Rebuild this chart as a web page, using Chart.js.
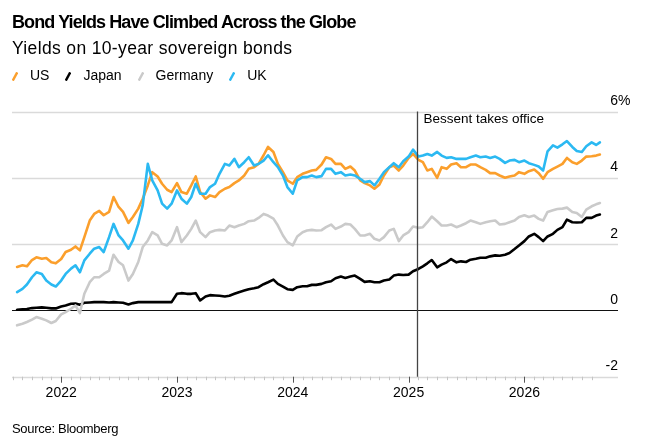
<!DOCTYPE html>
<html>
<head>
<meta charset="utf-8">
<script src="https://cdn.jsdelivr.net/npm/chart.js@4.4.1/dist/chart.umd.min.js"></script>
<style>
html, body { margin: 0; padding: 0; background: #fff; }
body { width: 645px; height: 441px; position: relative; overflow: hidden; font-family: "Liberation Sans", Arial, sans-serif; color: #000; }
canvas { position: absolute; left: 0; top: 0; }
#title { position: absolute; left: 12px; top: 13px; font-size: 18px; line-height: 18px; font-weight: bold; letter-spacing: -0.9px; white-space: nowrap; }
#sub { position: absolute; left: 12px; top: 40.2px; font-size: 17.5px; line-height: 17.5px; letter-spacing: 0.35px; white-space: nowrap; }
#legend { position: absolute; left: 12px; top: 68px; display: flex; font-size: 14px; line-height: 14px; white-space: nowrap; }
#legend .item { display: flex; margin-right: 16px; }
#legend svg { margin-top: 3.5px; margin-right: 12px; }
#source { position: absolute; left: 12px; top: 422px; font-size: 13px; line-height: 13px; letter-spacing: -0.3px; white-space: nowrap; }
</style>
</head>
<body>
<canvas id="chart" width="645" height="441"></canvas>
<div id="title">Bond Yields Have Climbed Across the Globe</div>
<div id="sub">Yields on 10-year sovereign bonds</div>
<div id="legend"></div>
<div id="source">Source: Bloomberg</div>
<script>
// half-monthly readings, % yield
const dates = [
  '2021-08-15','2021-09-01','2021-09-15','2021-10-01','2021-10-15','2021-11-01','2021-11-15','2021-12-01','2021-12-15',
  '2022-01-01','2022-01-15','2022-02-01','2022-02-15','2022-03-01','2022-03-15','2022-04-01','2022-04-15','2022-05-01','2022-05-15','2022-06-01','2022-06-15',
  '2022-07-01','2022-07-15','2022-08-01','2022-08-15','2022-09-01','2022-09-15','2022-10-01','2022-10-15','2022-11-01','2022-11-15','2022-12-01','2022-12-15',
  '2023-01-01','2023-01-15','2023-02-01','2023-02-15','2023-03-01','2023-03-15','2023-04-01','2023-04-15','2023-05-01','2023-05-15','2023-06-01','2023-06-15',
  '2023-07-01','2023-07-15','2023-08-01','2023-08-15','2023-09-01','2023-09-15','2023-10-01','2023-10-15','2023-11-01','2023-11-15','2023-12-01','2023-12-15',
  '2024-01-01','2024-01-15','2024-02-01','2024-02-15','2024-03-01','2024-03-15','2024-04-01','2024-04-15','2024-05-01','2024-05-15','2024-06-01','2024-06-15',
  '2024-07-01','2024-07-15','2024-08-01','2024-08-15','2024-09-01','2024-09-15','2024-10-01','2024-10-15','2024-11-01','2024-11-15','2024-12-01','2024-12-15',
  '2025-01-01','2025-01-15','2025-02-01','2025-02-15','2025-03-01','2025-03-15','2025-04-01','2025-04-15','2025-05-01','2025-05-15','2025-06-01','2025-06-15',
  '2025-07-01','2025-07-15','2025-08-01','2025-08-15','2025-09-01','2025-09-15','2025-10-01','2025-10-15','2025-11-01','2025-11-15','2025-12-01','2025-12-15',
  '2026-01-01','2026-01-15','2026-02-01','2026-02-15','2026-03-01','2026-03-15','2026-04-01','2026-04-15','2026-05-01','2026-05-15','2026-06-01','2026-06-15',
  '2026-07-01','2026-07-15','2026-08-01','2026-08-15','2026-08-27'
];

const us = [
  1.31, 1.36, 1.33, 1.52, 1.60, 1.56, 1.58, 1.45, 1.42,
  1.55, 1.76, 1.83, 1.93, 1.81, 2.21, 2.71, 2.91, 3.00, 2.87, 2.97, 3.42,
  3.12, 2.97, 2.64, 2.82, 3.07, 3.37, 3.77, 4.17, 4.04, 3.82, 3.64, 3.57,
  3.84, 3.57, 3.52, 3.77, 4.04, 3.57, 3.37, 3.47, 3.42, 3.57, 3.67, 3.72,
  3.84, 3.92, 4.07, 4.27, 4.32, 4.42, 4.68, 4.93, 4.78, 4.42, 4.17, 3.92,
  3.82, 4.02, 4.12, 4.17, 4.22, 4.24, 4.40, 4.62, 4.57, 4.42, 4.42, 4.27,
  4.34, 4.22, 3.92, 3.84, 3.77, 3.67, 3.80, 4.07, 4.32, 4.37, 4.22, 4.37,
  4.60, 4.72, 4.54, 4.47, 4.22, 4.27, 4.00, 4.32, 4.27, 4.40, 4.44, 4.32,
  4.32, 4.40, 4.40, 4.32, 4.24, 4.14, 4.14, 4.07, 4.00, 4.04, 4.07, 4.17,
  4.12, 4.20, 4.25, 4.14, 3.97, 4.17, 4.27, 4.34, 4.42, 4.60, 4.47, 4.42,
  4.52, 4.64, 4.65, 4.67, 4.70
];

const japan = [
  0.02, 0.03, 0.04, 0.07, 0.08, 0.09, 0.08, 0.06, 0.06,
  0.12, 0.15, 0.20, 0.21, 0.17, 0.23, 0.24, 0.25, 0.25, 0.25, 0.24, 0.25,
  0.24, 0.23, 0.18, 0.22, 0.25, 0.25, 0.25, 0.25, 0.25, 0.25, 0.25, 0.25,
  0.50, 0.52, 0.50, 0.50, 0.52, 0.30, 0.42, 0.46, 0.45, 0.44, 0.42, 0.44,
  0.50, 0.55, 0.60, 0.64, 0.67, 0.70, 0.79, 0.85, 0.93, 0.80, 0.72, 0.64,
  0.62, 0.70, 0.73, 0.73, 0.77, 0.77, 0.80, 0.85, 0.88, 0.97, 1.02, 0.98,
  1.02, 1.05, 0.95, 0.86, 0.88, 0.85, 0.85, 0.90, 0.93, 1.05, 1.08, 1.07,
  1.08, 1.18, 1.25, 1.33, 1.42, 1.52, 1.30, 1.38, 1.45, 1.55, 1.45, 1.48,
  1.46, 1.53, 1.56, 1.59, 1.59, 1.63, 1.66, 1.65, 1.68, 1.73, 1.85, 1.96,
  2.09, 2.23, 2.31, 2.21, 2.09, 2.23, 2.31, 2.43, 2.51, 2.74, 2.66, 2.65,
  2.66, 2.79, 2.79, 2.86, 2.89
];

const germany = [
  -0.45, -0.40, -0.35, -0.28, -0.20, -0.25, -0.30, -0.38, -0.32,
  -0.12, -0.05, 0.05, 0.15, -0.08, 0.50, 0.85, 1.00, 1.00, 1.10, 1.20, 1.68,
  1.46, 1.36, 0.90, 1.10, 1.46, 1.91, 2.11, 2.36, 2.26, 2.01, 1.96, 2.11,
  2.51, 2.06, 2.26, 2.46, 2.71, 2.36, 2.21, 2.36, 2.41, 2.43, 2.41, 2.56,
  2.51, 2.56, 2.61, 2.69, 2.71, 2.79, 2.91, 2.86, 2.77, 2.56, 2.26, 2.06,
  1.96, 2.23, 2.36, 2.41, 2.43, 2.41, 2.42, 2.51, 2.59, 2.46, 2.53, 2.61,
  2.59, 2.46, 2.26, 2.26, 2.31, 2.16, 2.11, 2.21, 2.41, 2.46, 2.09, 2.26,
  2.36, 2.53, 2.49, 2.51, 2.66, 2.83, 2.69, 2.56, 2.56, 2.59, 2.51, 2.56,
  2.63, 2.71, 2.66, 2.61, 2.66, 2.69, 2.71, 2.59, 2.61, 2.66, 2.71, 2.82,
  2.87, 2.82, 2.86, 2.76, 2.71, 2.97, 3.02, 3.06, 3.07, 3.10, 2.97, 2.94,
  2.82, 3.04, 3.14, 3.20, 3.24
];

const uk = [
  0.55, 0.65, 0.78, 1.00, 1.15, 1.10, 0.90, 0.78, 0.72,
  0.90, 1.10, 1.26, 1.36, 1.15, 1.51, 1.71, 1.86, 1.91, 1.76, 2.21, 2.61,
  2.26, 2.11, 1.86, 2.11, 2.61, 3.17, 4.42, 3.92, 3.62, 3.22, 3.07, 3.22,
  3.62, 3.37, 3.22, 3.42, 3.82, 3.52, 3.52, 3.72, 3.82, 4.12, 4.42, 4.37,
  4.57, 4.32, 4.47, 4.62, 4.37, 4.42, 4.52, 4.68, 4.47, 4.32, 4.07, 3.72,
  3.52, 3.92, 4.02, 4.02, 4.07, 4.02, 4.05, 4.27, 4.27, 4.12, 4.17, 4.07,
  4.10, 4.07, 3.97, 3.87, 3.90, 3.77, 3.97, 4.17, 4.32, 4.44, 4.32, 4.50,
  4.64, 4.85, 4.64, 4.67, 4.72, 4.67, 4.78, 4.67, 4.60, 4.62, 4.57, 4.57,
  4.57, 4.62, 4.67, 4.62, 4.64, 4.60, 4.64, 4.57, 4.45, 4.52, 4.54, 4.47,
  4.52, 4.44, 4.39, 4.34, 4.22, 4.80, 4.98, 4.91, 5.01, 5.11, 4.93, 4.81,
  4.78, 4.95, 5.07, 4.99, 5.07
];

const seriesNames = ['US', 'Japan', 'Germany', 'UK'];
const seriesColors = ['#fb9f2c', '#000000', '#cacaca', '#2bb9f2'];
const yTicks = [6, 4, 2, 0, -2];
const yearTicks = ['2022', '2023', '2024', '2025', '2026'];
const axisStart = '2021-07-30';
const axisEnd = '2026-10-23';
const eventDate = '2025-01-28';
const eventLabel = 'Bessent takes office';

function toYear(s) {
  const [y, m, d] = s.split('-').map(Number);
  const t0 = Date.UTC(y, 0, 1), t1 = Date.UTC(y + 1, 0, 1);
  return y + (Date.UTC(y, m - 1, d) - t0) / (t1 - t0);
}

// month ticks along the bottom axis
const monthTicks = [];
for (let y = 2021; y <= 2026; y++) {
  for (let m = 1; m <= 12; m++) {
    const v = toYear(y + '-' + String(m).padStart(2, '0') + '-01');
    if (v > toYear(axisStart) && v < toYear('2026-08-15')) monthTicks.push({v: v, major: m === 1});
  }
}

// legend
const legendEl = document.getElementById('legend');
seriesNames.forEach((name, i) => {
  const item = document.createElement('div');
  item.className = 'item';
  item.innerHTML = '<svg width="6" height="9"><line x1="0.8" y1="8.6" x2="5.2" y2="0.4" stroke="' +
    seriesColors[i] + '" stroke-width="2.4"/></svg><span>' + name + '</span>';
  legendEl.appendChild(item);
});

const allSeries = [us, japan, germany, uk];
const drawOrder = [3, 2, 1, 0]; // UK on top
const xs = dates.map(toYear);

const decor = {
  id: 'decor',
  beforeDatasetsDraw(chart) {
    const {ctx, chartArea: a, scales: {x, y}} = chart;
    ctx.save();
    yTicks.forEach(v => {
      const py = Math.round(y.getPixelForValue(v)) + 0.5;
      ctx.beginPath();
      ctx.moveTo(a.left, py);
      ctx.lineTo(a.right, py);
      if (v === 0) { ctx.strokeStyle = '#111'; ctx.lineWidth = 1.2; }
      else { ctx.strokeStyle = '#dadada'; ctx.lineWidth = 1.5; }
      ctx.stroke();
    });
    // axis ticks
    const base = y.getPixelForValue(-2);
    monthTicks.forEach(t => {
      const px = Math.round(x.getPixelForValue(t.v)) + 0.5;
      ctx.beginPath();
      ctx.moveTo(px, base);
      ctx.lineTo(px, base + (t.major ? 6 : 3.5));
      ctx.strokeStyle = t.major ? '#555' : '#c4c4c4';
      ctx.lineWidth = 1;
      ctx.stroke();
    });
    ctx.restore();
  },
  afterDatasetsDraw(chart) {
    const {ctx, chartArea: a, scales: {x, y}} = chart;
    ctx.save();
    const ex = Math.round(x.getPixelForValue(toYear(eventDate))) + 0.5;
    ctx.beginPath();
    ctx.moveTo(ex, a.top);
    ctx.lineTo(ex, a.bottom);
    ctx.strokeStyle = '#444';
    ctx.lineWidth = 1.3;
    ctx.stroke();
    ctx.fillStyle = '#000';
    ctx.font = '13.5px "Liberation Sans", Arial, sans-serif';
    ctx.textAlign = 'left';
    ctx.textBaseline = 'alphabetic';
    ctx.fillText(eventLabel, ex + 6, a.top + 11.2);

    ctx.font = '14px "Liberation Sans", Arial, sans-serif';
    yTicks.forEach(v => {
      const py = y.getPixelForValue(v) - 6.5;
      ctx.textAlign = 'right';
      ctx.fillText(String(v), a.right, py);
      if (v === yTicks[0]) {
        ctx.textAlign = 'left';
        ctx.fillText('%', a.right, py);
      }
    });
    ctx.textAlign = 'center';
    yearTicks.forEach(yr => {
      ctx.fillText(yr, x.getPixelForValue(toYear(yr + '-01-01')), a.bottom + 20);
    });
    ctx.restore();
  }
};

new Chart(document.getElementById('chart'), {
  type: 'line',
  data: {
    datasets: seriesNames.map((name, i) => ({
      label: name,
      data: allSeries[i].map((v, j) => ({x: xs[j], y: v})),
      borderColor: seriesColors[i],
      backgroundColor: seriesColors[i],
      order: drawOrder[i]
    }))
  },
  options: {
    responsive: false,
    animation: false,
    devicePixelRatio: 1,
    layout: {padding: {left: 12, right: 27, top: 111.5, bottom: 64.3}},
    plugins: {legend: {display: false}, tooltip: {enabled: false}},
    elements: {
      point: {radius: 0},
      line: {borderWidth: 2.6, tension: 0, borderJoinStyle: 'round', borderCapStyle: 'round'}
    },
    scales: {
      x: {type: 'linear', display: false, min: toYear(axisStart), max: toYear(axisEnd)},
      y: {display: false, min: -2, max: 6}
    }
  },
  plugins: [decor]
});
</script>
</body>
</html>
